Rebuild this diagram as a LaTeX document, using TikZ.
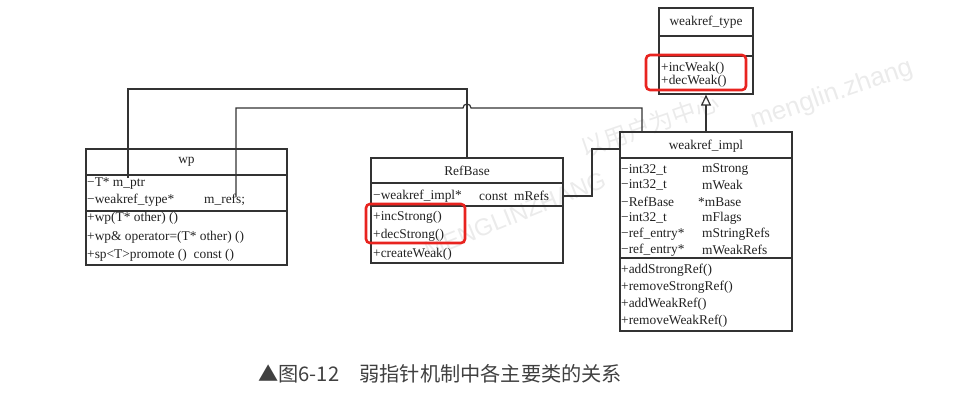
\documentclass[tikz,border=0pt]{standalone}
\usepackage{fontspec}
\setmainfont{Liberation Serif}
\newfontfamily\cjk{Noto Sans CJK SC}
\newfontfamily\wmfont{Liberation Sans}
\usetikzlibrary{arrows.meta}
\definecolor{ln}{HTML}{333333}
\definecolor{tx}{HTML}{222222}
\definecolor{hl}{HTML}{E8231F}
\definecolor{cap}{HTML}{404040}
\tikzset{
  classbox/.style={draw=ln, line width=1.2pt, inner sep=0pt, fill=none},
  sep/.style={draw=ln, line width=1.1pt},
  tt/.style={anchor=west, inner sep=0pt, text=tx, font=\fontsize{13.4}{13}\selectfont},
  ttc/.style={anchor=center, inner sep=0pt, text=tx, font=\fontsize{13.4}{13}\selectfont},
  conn/.style={draw=ln, line width=1.2pt},
  hlbox/.style={draw=hl, line width=2.6pt, rounded corners=4pt},
  wm/.style={text=black!8, inner sep=0pt}
}
\begin{document}
\begin{tikzpicture}[x=1pt,y=-1pt]
\useasboundingbox (0,0) rectangle (975,414);

% watermark
\node[wm, rotate=19, font=\cjk\fontsize{24}{24}\selectfont] (wm1) at (650,125) {以用户为中心};
\node[wm, rotate=19, font=\wmfont\fontsize{26}{26}\selectfont] (wm2) at (832,95) {menglin.zhang};
\node[wm, rotate=22, font=\wmfont\fontsize{24}{24}\selectfont] (wm3) at (515,215) {MENGLINZHANG};

% ---- wp ----
\node[classbox, minimum width=201pt, minimum height=116pt] (wp) at (186.5,207) {};
\draw[sep] (86,175) -- (287,175);
\draw[sep] (86,211) -- (287,211);
\node[ttc] (wpT) at (186.5,162) {wp};
\node[tt] (wp1) at (87,184) {−T* m\_ptr};
\node[tt] (wp2) at (87,200) {−weakref\_type*};
\node[tt] (wp2b) at (204,200) {m\_refs;};
\node[tt] (wp3) at (87,218) {+wp(T* other) ()};
\node[tt] (wp4) at (87,237) {+wp\& operator=(T* other) ()};
\node[tt] (wp5) at (87,255) {+sp<T>promote ()\ \ const ()};

% ---- RefBase ----
\node[classbox, minimum width=192pt, minimum height=105pt] (rb) at (467,210.5) {};
\draw[sep] (371,183) -- (563,183);
\draw[sep] (371,206) -- (563,206);
\node[ttc] (rbT) at (467,171) {RefBase};
\node[tt] (rb1) at (373,196) {−weakref\_impl*};
\node[tt] (rb1b) at (479,196) {const\ \ mRefs};
\node[tt] (rb2) at (373,217) {+incStrong()};
\node[tt] (rb3) at (373,235) {+decStrong()};
\node[tt] (rb4) at (373,254) {+createWeak()};

% ---- weakref_type ----
\node[classbox, minimum width=94pt, minimum height=86pt] (wt) at (706,51) {};
\draw[sep] (659,36) -- (753,36);
\draw[sep] (659,56) -- (753,56);
\node[ttc] (wtT) at (706,22) {weakref\_type};
\node[tt] (wt1) at (661,68) {+incWeak()};
\node[tt] (wt2) at (661,81) {+decWeak()};

% ---- weakref_impl ----
\node[classbox, minimum width=172pt, minimum height=199pt] (wi) at (706,231.5) {};
\draw[sep] (620,158) -- (792,158);
\draw[sep] (620,258) -- (792,258);
\node[ttc] (wiT) at (706,146) {weakref\_impl};
\node[tt] (wi1) at (621,170) {−int32\_t};
\node[tt] (wi1b) at (702,170) {mStrong};
\node[tt] (wi2) at (621,185) {−int32\_t};
\node[tt] (wi2b) at (702,185) {mWeak};
\node[tt] (wi3) at (621,202) {−RefBase};
\node[tt] (wi3b) at (698,202) {*mBase};
\node[tt] (wi4) at (621,218) {−int32\_t};
\node[tt] (wi4b) at (702,218) {mFlags};
\node[tt] (wi5) at (621,234) {−ref\_entry*};
\node[tt] (wi5b) at (702,234) {mStringRefs};
\node[tt] (wi6) at (621,250) {−ref\_entry*};
\node[tt] (wi6b) at (702,250) {mWeakRefs};
\node[tt] (wi7) at (621,270) {+addStrongRef()};
\node[tt] (wi8) at (621,287) {+removeStrongRef()};
\node[tt] (wi9) at (621,304) {+addWeakRef()};
\node[tt] (wi10) at (621,321) {+removeWeakRef()};

% ---- highlight boxes ----
\draw[hlbox] (366,204) rectangle (465,243);
\draw[hlbox] (646,55) rectangle (746,90);

% ---- connectors ----
\coordinate (wpA) at (128,178);
\coordinate (wpB) at (236,197);
\coordinate (rbA) at (563,196);
\coordinate (hop) at (463,108);
\draw[conn] (wpA) |- (467,89) -- (rb.north);
\draw[conn] (wpB) |- (hop) arc[start angle=180, end angle=360, radius=4] -- (642,108) -- (642,132);
\draw[conn] (rbA) -- (592,196) |- (620,149);
\draw[conn, -{Triangle[open, length=11pt, width=10pt]}] (wi.north) -- (wt.south);

% ---- caption ----
\node[anchor=west, inner sep=0pt, text=cap, font=\cjk\fontsize{20.2}{21}\selectfont] (caption) at (258,374) {▲图6-12　弱指针机制中各主要类的关系};
\end{tikzpicture}
\end{document}
